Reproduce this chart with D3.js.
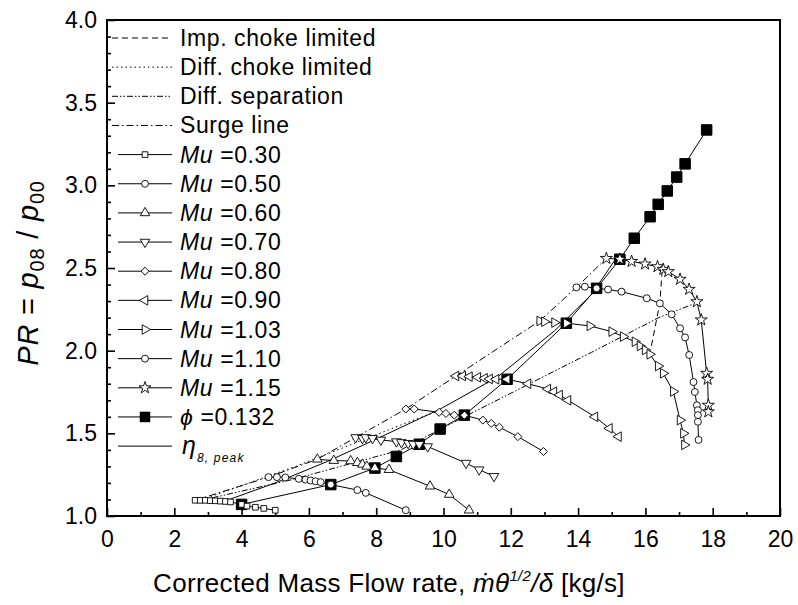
<!DOCTYPE html>
<html><head><meta charset="utf-8">
<script src="https://cdn.jsdelivr.net/npm/d3@7"></script>
<style>
body{margin:0;background:#fff}
svg{display:block}
text{font-family:"Liberation Sans",Arial,sans-serif;fill:#000}
</style>
</head><body>
<svg id="c" width="798" height="605"></svg>
<script>
// ---------- data ----------
const xTicks = [0,2,4,6,8,10,12,14,16,18,20];
const xMinorTicks = [1,3,5,7,9,11,13,15,17,19];
const yTicks = [1.0,1.5,2.0,2.5,3.0,3.5,4.0];
const yMinorTicks = [1.1,1.2,1.3,1.4,1.6,1.7,1.8,1.9,2.1,2.2,2.3,2.4,2.6,2.7,2.8,2.9,3.1,3.2,3.3,3.4,3.6,3.7,3.8,3.9];

const mu030 = [[2.62,1.095],[2.77,1.095],[2.92,1.095],[3.07,1.093],[3.22,1.092],[3.37,1.09],[3.52,1.088],[3.67,1.085],[4.0,1.07],[4.16,1.06],[4.41,1.053],[4.66,1.046],[5.0,1.035]];
const mu050 = [[4.8,1.235],[5.05,1.235],[5.3,1.233],[5.7,1.225],[5.9,1.22],[6.05,1.215],[6.2,1.21],[6.35,1.205],[6.65,1.19],[7.44,1.157],[7.69,1.14],[8.88,1.035]];
const mu060 = [[6.25,1.343],[6.74,1.335],[7.24,1.333],[7.44,1.322],[7.59,1.312],[7.72,1.30],[7.96,1.29],[8.38,1.28],[9.6,1.18],[10.17,1.13],[10.76,1.035]];
const mu070 = [[7.39,1.475],[7.59,1.47],[7.69,1.475],[7.89,1.47],[8.14,1.46],[8.6,1.45],[8.75,1.445],[8.95,1.44],[9.1,1.435],[9.28,1.434],[9.53,1.42],[10.67,1.32],[11.06,1.28],[11.5,1.24]];
const mu080 = [[8.88,1.647],[9.13,1.647],[9.87,1.627],[10.07,1.62],[10.32,1.61],[10.62,1.61],[11.17,1.58],[11.42,1.56],[11.66,1.537],[12.21,1.48],[12.97,1.39]];
const mu090 = [[10.37,1.847],[10.57,1.847],[10.77,1.843],[11.02,1.839],[11.22,1.833],[11.37,1.829],[11.56,1.827],[11.89,1.827],[12.51,1.80],[13.1,1.768],[13.28,1.752],[13.45,1.732],[13.7,1.70],[14.5,1.60],[14.93,1.53],[15.2,1.48]];
const mu103 = [[12.86,2.18],[13.0,2.175],[13.3,2.17],[13.65,2.166],[14.35,2.15],[15.0,2.115],[15.34,2.085],[15.69,2.054],[15.84,2.028],[15.99,2.004],[16.13,1.978],[16.38,1.907],[16.53,1.863],[16.83,1.753],[17.03,1.58],[17.13,1.50],[17.16,1.43]];
const mu110 = [[13.95,2.383],[14.2,2.387],[14.55,2.377],[14.89,2.37],[15.29,2.357],[16.04,2.317],[16.43,2.286],[16.78,2.22],[17.03,2.135],[17.18,2.08],[17.3,1.974],[17.43,1.81],[17.47,1.75],[17.53,1.67],[17.56,1.64],[17.56,1.61],[17.56,1.57],[17.58,1.46]];
const mu115 = [[14.84,2.558],[15.24,2.553],[15.59,2.54],[15.99,2.524],[16.36,2.508],[16.53,2.492],[16.68,2.478],[17.03,2.432],[17.3,2.371],[17.53,2.296],[17.66,2.186],[17.82,1.863],[17.85,1.827],[17.87,1.67],[17.87,1.63]];
const phi0132 = [[4.0,1.07],[6.65,1.19],[7.96,1.29],[8.6,1.36],[9.28,1.434],[9.9,1.526],[10.62,1.61],[11.89,1.827],[13.65,2.166],[14.55,2.377],[15.24,2.553],[15.67,2.68],[16.14,2.81],[16.38,2.885],[16.65,2.966],[16.93,3.05],[17.18,3.13],[17.82,3.335]];
const etaPeak = [[3.5,1.09],[5.0,1.2],[6.55,1.33],[7.84,1.45],[9.93,1.65],[11.6,1.84],[13.3,2.12],[14.4,2.34],[15.1,2.55]];
const surgeLine = [[2.62,1.095],[4.8,1.235],[6.25,1.343],[7.39,1.475],[8.88,1.647],[10.37,1.847],[12.86,2.18],[13.95,2.383],[14.84,2.558]];
const diffSeparation = [[2.7,1.09],[5.5,1.22],[8.73,1.40],[10.62,1.6],[14.4,1.99],[16.4,2.2],[17.4,2.28]];
const diffChoke = [[2.7,1.09],[5.6,1.3],[8.73,1.55],[9.9,1.64]];
const impChoke = [[16.18,2.03],[16.43,2.29],[16.5,2.49]];

const muLabels = ["0.30","0.50","0.60","0.70","0.80","0.90","1.03","1.10","1.15"];
const phiLabel = "0.132";

// ---------- drawing ----------
const svg = d3.select("#c");
const X0=107, X1=780, Y0=516, Y1=20;
const x = d3.scaleLinear().domain([0,20]).range([X0,X1]);
const y = d3.scaleLinear().domain([1,4]).range([Y0,Y1]);
const line = d3.line().x(d=>x(d[0])).y(d=>y(d[1]));

function styleAx(g){ g.select(".domain").remove(); g.selectAll(".tick line").attr("stroke","#000").attr("stroke-width",1.6); g.selectAll("text").attr("font-size",23).attr("font-family","Liberation Sans, Arial, sans-serif"); }
svg.append("g").attr("transform",`translate(0,${Y0})`)
  .call(d3.axisBottom(x).tickValues(xMinorTicks).tickSize(-4).tickFormat("")).call(styleAx);
svg.append("g").attr("transform",`translate(0,${Y0})`)
  .call(d3.axisBottom(x).tickValues(xTicks).tickSize(-8).tickPadding(15).tickFormat(d3.format("d"))).call(styleAx);
svg.append("g").attr("transform",`translate(${X0},0)`)
  .call(d3.axisLeft(y).tickValues(yMinorTicks).tickSize(-4).tickFormat("")).call(styleAx);
svg.append("g").attr("transform",`translate(${X0},0)`)
  .call(d3.axisLeft(y).tickValues(yTicks).tickSize(-8).tickPadding(10).tickFormat(d3.format(".1f"))).call(styleAx);

svg.append("rect").attr("x",X0).attr("y",Y1).attr("width",X1-X0).attr("height",Y0-Y1)
  .attr("fill","none").attr("stroke","#000").attr("stroke-width",2);

const refLines = [
  {data:impChoke, dash:"6,4", label:"Imp. choke limited"},
  {data:diffChoke, dash:"1.5,3", label:"Diff. choke limited"},
  {data:diffSeparation, dash:"6,2,1.5,2,1.5,2", label:"Diff. separation"},
  {data:surgeLine, dash:"7,3,1.5,3", label:"Surge line"}
];
refLines.forEach(r=>{
  svg.append("path").attr("d",line(r.data)).attr("fill","none").attr("stroke","#000")
    .attr("stroke-width",1).attr("stroke-dasharray",r.dash);
});

const muSeries = [
  {data:mu030, sym:d3.symbolSquare, size:32, rot:0},
  {data:mu050, sym:d3.symbolCircle, size:38, rot:0},
  {data:mu060, sym:d3.symbolTriangle, size:40, rot:0},
  {data:mu070, sym:d3.symbolTriangle, size:40, rot:180},
  {data:mu080, sym:d3.symbolSquare, size:32, rot:45},
  {data:mu090, sym:d3.symbolTriangle, size:40, rot:-90},
  {data:mu103, sym:d3.symbolTriangle, size:40, rot:90},
  {data:mu110, sym:d3.symbolCircle, size:38, rot:0},
  {data:mu115, sym:d3.symbolStar, size:45, rot:0}
];

muSeries.forEach(s=>{
  svg.append("path").attr("d",line(s.data)).attr("fill","none").attr("stroke","#000").attr("stroke-width",1);
});
svg.append("path").attr("d",line(phi0132)).attr("fill","none").attr("stroke","#000").attr("stroke-width",1);
svg.append("path").attr("d",line(etaPeak)).attr("fill","none").attr("stroke","#000").attr("stroke-width",1);

svg.append("g").selectAll("path").data(phi0132).join("path")
  .attr("d",d3.symbol().type(d3.symbolSquare).size(110))
  .attr("transform",d=>`translate(${x(d[0])},${y(d[1])})`)
  .attr("fill","#000").attr("stroke","#000");

muSeries.forEach(s=>{
  svg.append("g").selectAll("path").data(s.data).join("path")
    .attr("d",d3.symbol().type(s.sym).size(s.size))
    .attr("transform",d=>`translate(${x(d[0])},${y(d[1])}) rotate(${s.rot})`)
    .attr("fill","#fff").attr("stroke","#000").attr("stroke-width",0.9);
});

// ---------- legend ----------
const LX0=112, LX1=172, LM=145, LT=180, rowY0=38, rowH=29.15, LFS=23, LLS=0.6;
const lg = svg.append("g");
refLines.forEach((r,i)=>{
  const cy=rowY0+i*rowH;
  lg.append("line").attr("x1",LX0).attr("x2",LX1).attr("y1",cy).attr("y2",cy)
    .attr("stroke","#000").attr("stroke-width",1).attr("stroke-dasharray",r.dash);
  lg.append("text").attr("x",LT).attr("y",cy+8).attr("font-size",LFS).attr("letter-spacing",LLS).text(r.label);
});
muSeries.forEach((s,i)=>{
  const cy=rowY0+(i+4)*rowH;
  lg.append("line").attr("x1",LX0+6).attr("x2",LX1).attr("y1",cy).attr("y2",cy).attr("stroke","#000");
  lg.append("path").attr("d",d3.symbol().type(s.sym).size(s.size)())
    .attr("transform",`translate(${LM},${cy}) rotate(${s.rot})`).attr("fill","#fff").attr("stroke","#000").attr("stroke-width",0.9);
  const t=lg.append("text").attr("x",LT).attr("y",cy+8).attr("font-size",LFS).attr("letter-spacing",LLS);
  t.append("tspan").attr("font-style","italic").text("Mu");
  t.append("tspan").text(" =" + muLabels[i]);
});
{
  const cy=rowY0+13*rowH;
  lg.append("line").attr("x1",LX0+6).attr("x2",LX1).attr("y1",cy).attr("y2",cy).attr("stroke","#000");
  lg.append("path").attr("d",d3.symbol().type(d3.symbolSquare).size(110)())
    .attr("transform",`translate(${LM},${cy})`).attr("fill","#000");
  const t=lg.append("text").attr("x",LT).attr("y",cy+8).attr("font-size",LFS).attr("letter-spacing",LLS);
  t.append("tspan").attr("font-style","italic").text("\u03D5");
  t.append("tspan").text(" =" + phiLabel);
}
{
  const cy=rowY0+14*rowH;
  lg.append("line").attr("x1",LX0+6).attr("x2",LX1).attr("y1",cy).attr("y2",cy).attr("stroke","#000");
  const t=lg.append("text").attr("x",LT+2).attr("y",cy+8).attr("font-size",25);
  t.append("tspan").attr("font-style","italic").text("\u03B7");
  t.append("tspan").attr("font-style","italic").attr("font-size",12).attr("dy",8).attr("dx",1)
    .attr("letter-spacing",1.2).text("8, peak");
}

// ---------- axis titles ----------
{
  const t=svg.append("text").attr("x",389).attr("y",592).attr("font-size",26).attr("letter-spacing",0.3).attr("text-anchor","middle");
  t.append("tspan").text("Corrected Mass Flow rate, ");
  t.append("tspan").attr("font-style","italic").text("\u1E41\u03B8");
  t.append("tspan").attr("font-style","italic").attr("font-size",15).attr("dy",-11).text("1/2");
  t.append("tspan").attr("font-style","italic").attr("dy",11).text("/\u03B4");
  t.append("tspan").text(" [kg/s]");
}
{
  const t=svg.append("text").attr("transform","translate(38,273) rotate(-90)").attr("font-size",29).attr("letter-spacing",0.8).attr("text-anchor","middle");
  t.append("tspan").attr("font-style","italic").text("PR");
  t.append("tspan").text(" = ");
  t.append("tspan").attr("font-style","italic").text("p");
  t.append("tspan").attr("font-size",20).attr("dy",6).text("08");
  t.append("tspan").attr("dy",-6).text(" / ");
  t.append("tspan").attr("font-style","italic").text("p");
  t.append("tspan").attr("font-size",20).attr("dy",6).text("00");
}
</script>
</body></html>
